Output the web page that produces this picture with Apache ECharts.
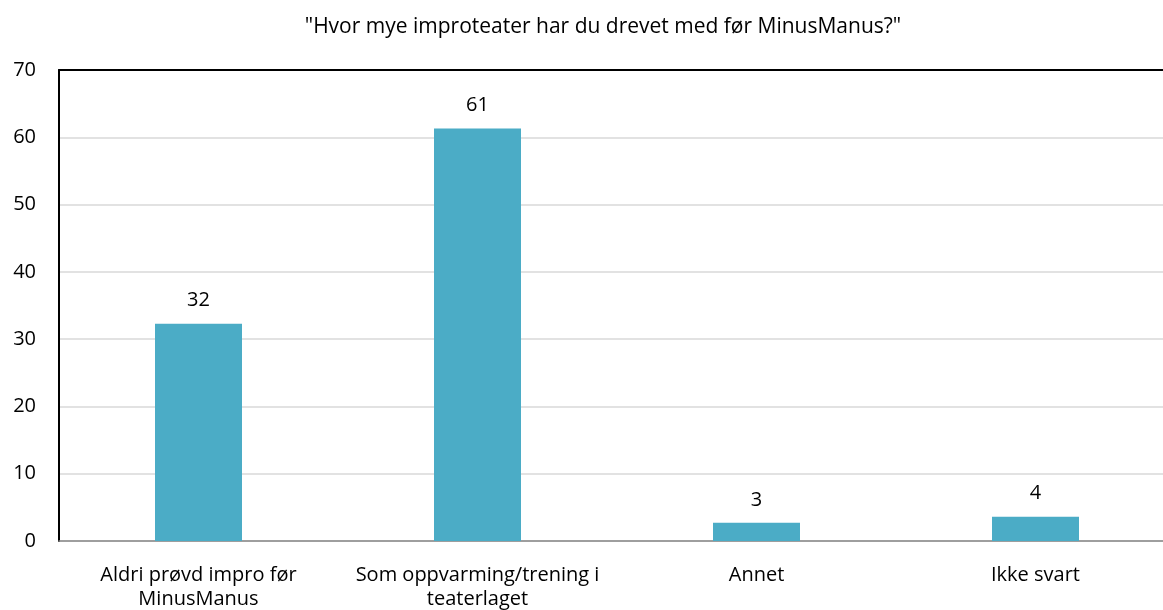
<!DOCTYPE html>
<html>
<head>
<meta charset="utf-8">
<script src="https://cdn.jsdelivr.net/npm/echarts@6/dist/echarts.min.js"></script>
<style>
html, body { margin: 0; padding: 0; background: #fff; }
#main { width: 1163px; height: 610px; }
</style>
</head>
<body>
<div id="main"></div>
<script>
// data
var title = '"Hvor mye improteater har du drevet med før MinusManus?"';
var categories = ['Aldri prøvd impro før\nMinusManus', 'Som oppvarming/trening i\nteaterlaget', 'Annet', 'Ikke svart'];
var values = [32.3, 61.3, 2.7, 3.6];
var yTicks = { min: 0, max: 70, interval: 10 };

var font = '"Open Sans", "Noto Sans", sans-serif';
var myChart = echarts.init(document.getElementById('main'));

var option = {
    animation: false,
    title: {
        text: title,
        left: 598,
        textAlign: 'center',
        top: 12,
        textStyle: { fontFamily: font, fontSize: 21, fontWeight: 'normal', color: '#000' }
    },
    grid: {
        left: 59, top: 70, width: 1116, height: 471,
        containLabel: false, outerBoundsMode: 'none'
    },
    xAxis: [{
        type: 'category',
        data: categories,
        axisLine: { lineStyle: { color: '#888', width: 1.5 } },
        axisTick: { show: false },
        axisLabel: {
            margin: 22, fontFamily: font, fontSize: 20, color: '#000', lineHeight: 24, interval: 0
        }
    }, {
        type: 'category',
        position: 'top',
        data: categories,
        axisLine: { lineStyle: { color: '#000', width: 2 } },
        axisTick: { show: false },
        axisLabel: { show: false }
    }],
    yAxis: {
        type: 'value',
        min: yTicks.min, max: yTicks.max, interval: yTicks.interval,
        axisLine: { show: true, lineStyle: { color: '#000', width: 2 } },
        axisTick: { show: false },
        splitLine: { lineStyle: { color: '#d9d9d9', width: 1.5 } },
        axisLabel: { margin: 23, fontFamily: font, fontSize: 20, color: '#000' }
    },
    series: [{
        type: 'bar',
        data: values,
        barWidth: 87,
        itemStyle: { color: '#4BACC6' },
        label: {
            show: true,
            position: 'top',
            distance: 13,
            fontFamily: font, fontSize: 20, color: '#000',
            formatter: function (p) { return Math.round(p.value); }
        }
    }]
};

myChart.setOption(option);
</script>
</body>
</html>
